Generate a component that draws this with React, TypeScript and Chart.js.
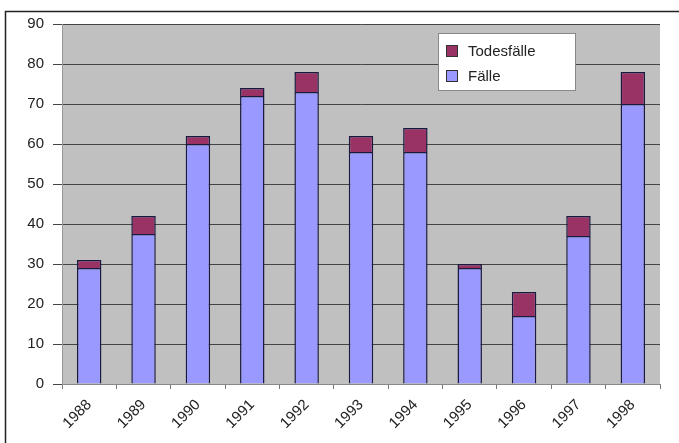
import React, { useEffect, useRef } from "react";
import { Chart, registerables } from "chart.js";

Chart.register(...registerables);

const years = ["1988", "1989", "1990", "1991", "1992", "1993", "1994", "1995", "1996", "1997", "1998"];
const faelle = [29, 37.5, 60, 72, 73, 58, 58, 29, 17, 37, 70];
const todesfaelle = [2, 4.5, 2, 2, 5, 4, 6, 1, 6, 5, 8];
const yTicks = [0, 10, 20, 30, 40, 50, 60, 70, 80, 90];

const FONT = "'Liberation Sans', Arial, sans-serif";

const bgPlugin = {
  id: "plotBg",
  beforeDraw(chart: any) {
    const { ctx, chartArea } = chart;
    ctx.save();
    ctx.fillStyle = "#ffffff";
    ctx.fillRect(0, 0, chart.width, chart.height);
    ctx.fillStyle = "#c0c0c0";
    ctx.fillRect(chartArea.left, chartArea.top, chartArea.right - chartArea.left, chartArea.bottom - chartArea.top);
    ctx.strokeStyle = "#222";
    ctx.lineWidth = 1.5;
    ctx.strokeRect(5.5, 11.5, chart.width + 10, chart.height + 10);
    ctx.restore();
  },
  afterDraw(chart: any) {
    const { ctx } = chart;
    const x = 438, y = 33, w = 137, h = 57;
    ctx.save();
    ctx.fillStyle = "#ffffff";
    ctx.fillRect(x, y, w, h);
    ctx.strokeStyle = "#888";
    ctx.lineWidth = 1;
    ctx.strokeRect(x + 0.5, y + 0.5, w, h);
    const items = [
      { label: "Todesfälle", color: chart.data.datasets[1].backgroundColor, cy: 51 },
      { label: "Fälle", color: chart.data.datasets[0].backgroundColor, cy: 76 },
    ];
    ctx.font = `15px ${FONT}`;
    ctx.textBaseline = "middle";
    items.forEach((it) => {
      ctx.fillStyle = it.color;
      ctx.fillRect(446, it.cy - 6, 12, 12);
      ctx.strokeStyle = "#333";
      ctx.strokeRect(446.5, it.cy - 5.5, 11, 11);
      ctx.fillStyle = "#222";
      ctx.fillText(it.label, 468, it.cy + 1);
    });
    ctx.restore();
  },
};

export default function App() {
  const ref = useRef<HTMLCanvasElement>(null);
  useEffect(() => {
    document.body.style.margin = "0";
    const chart = new Chart(ref.current!, {
      type: "bar",
      data: {
        labels: years,
        datasets: [
          {
            label: "Fälle",
            data: faelle,
            backgroundColor: "#9999ff",
            borderColor: "#1a1a40",
            borderWidth: 1.5,
            categoryPercentage: 1,
            barPercentage: 0.45,
          },
          {
            label: "Todesfälle",
            data: todesfaelle,
            backgroundColor: "#993366",
            borderColor: "#1a1a40",
            borderWidth: 1.5,
            categoryPercentage: 1,
            barPercentage: 0.45,
          },
        ],
      },
      options: {
        animation: false,
        responsive: false,
        layout: { padding: { left: 0, top: 24, right: 19, bottom: 0 } },
        plugins: { legend: { display: false }, tooltip: { enabled: false } },
        scales: {
          x: {
            stacked: true,
            grid: { offset: true, drawOnChartArea: false, color: "#777", tickLength: 5 },
            border: { color: "#888" },
            ticks: {
              minRotation: 45,
              maxRotation: 45,
              color: "#222",
              font: { family: FONT, size: 15 },
              padding: 7,
            },
            afterFit(scale: any) {
              scale.height = 59;
            },
          },
          y: {
            stacked: true,
            min: 0,
            max: 90,
            afterBuildTicks(scale: any) {
              scale.ticks = yTicks.map((v) => ({ value: v }));
            },
            grid: { color: "#444", tickLength: 9, lineWidth: 1 },
            border: { color: "#999" },
            ticks: {
              color: "#222",
              font: { family: FONT, size: 15 },
              padding: 9,
            },
            afterFit(scale: any) {
              scale.width = 62;
            },
          },
        },
      },
      plugins: [bgPlugin],
    });
    return () => chart.destroy();
  }, []);
  return <canvas ref={ref} width={679} height={443} style={{ display: "block" }} />;
}
